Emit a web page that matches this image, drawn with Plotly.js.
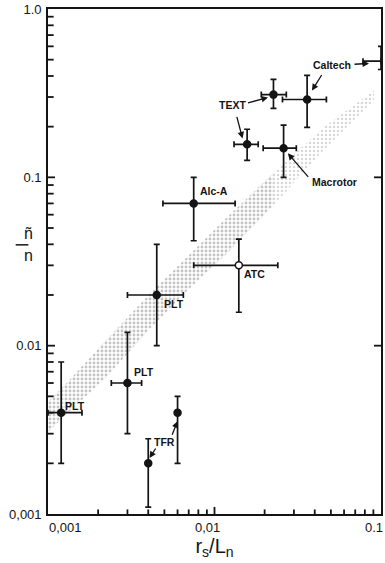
<!DOCTYPE html>
<html><head><meta charset="utf-8">
<script src="https://cdn.plot.ly/plotly-3.0.1.min.js"></script>
<style>html,body{margin:0;padding:0;background:#fff;}#chart{width:385px;height:563px;}</style>
</head><body><div id="chart"></div>
<script>
// ---- data ----
const pointLabels = ['PLT','PLT','TFR','TFR','PLT','Alc-A','ATC','TEXT','Macrotor','TEXT','Caltech','Caltech'];
const rsLn      = [0.0012, 0.003,  0.004,  0.006, 0.0045, 0.0075, 0.014,  0.0157, 0.026,  0.0226, 0.036,  0.1];
const rsLnLow   = [0.001,  0.0024, null,   null,  0.003,  0.0049, 0.0075, 0.0131, 0.0196, 0.0191, 0.0256, 0.078];
const rsLnHigh  = [0.0016, 0.00365,null,   null,  0.0065, 0.0133, 0.024,  0.0183, 0.031,  0.027,  0.047,  0.1];
const nRatio    = [0.004,  0.006,  0.002,  0.004, 0.02,   0.07,   0.03,   0.157,  0.149,  0.31,   0.29,   0.49];
const nRatioLow = [0.002,  0.003,  0.0011, 0.002, 0.01,   0.042,  0.0158, 0.126,  0.1,    0.257,  0.198,  0.437];
const nRatioHigh= [0.008,  0.012,  0.0028, 0.005, 0.04,   0.1,    0.043,  0.193,  0.204,  0.382,  0.403,  0.6];
const openPoint = [false,false,false,false,false,false,true,false,false,false,false,false];

// theory band (stippled)
const bandX     = [0.001,  0.00129, 0.00224, 0.00391, 0.00682, 0.0119, 0.0226, 0.0452, 0.0907];
const bandUpper = [0.00462,0.00599, 0.0108,  0.0194,  0.0335,  0.0579, 0.106,  0.198,  0.328];
const bandLower = [0.00307,0.00392, 0.0065,  0.012,   0.0211,  0.0354, 0.0682, 0.145,  0.286];

// tick labels
const xTickVals = [0.001, 0.01, 0.1];
const xTickText = ['0,001', '0,01', '0.1'];
const xTickLabelPos = [0.00127, 0.0091, 0.1];
const yTickVals = [0.001, 0.01, 0.1, 1];
const yTickText = ['0,001', '0.01', '0.1', '1.0'];

// point labels
const labelText = ['Caltech','TEXT','Macrotor','Alc-A','ATC','PLT','PLT','PLT','TFR'];
const labelX    = [0.0508, 0.01274, 0.0529, 0.00993, 0.0175, 0.00571, 0.00377, 0.00145, 0.00501];
const labelY    = [0.462,  0.2675,  0.0934, 0.0826,  0.0266, 0.01763, 0.00696, 0.00437, 0.00267];

// arrows (tail -> head)
const arrowTailX = [0.0679, 0.0446, 0.01556, 0.01355, 0.0372, 0.00449, 0.00552];
const arrowTailY = [0.469,  0.414,  0.275,   0.2333,  0.0986, 0.0025,  0.0029];
const arrowHeadX = [0.0847, 0.0385, 0.02094, 0.01473, 0.0276, 0.00407, 0.006];
const arrowHeadY = [0.475,  0.328,  0.2985,  0.1703,  0.1388, 0.00215, 0.00356];

// ---- build ----
const L = Math.log10;
const ink = '#141414';
const FONT = 'Liberation Sans, Arial, sans-serif';
const minorsOf = (majors) => {
  const v = [];
  majors.forEach((m, i) => { if (i < majors.length - 1) for (let k = 2; k <= 9; k++) v.push(k * m); });
  return v;
};

const plusX  = rsLn.map((x,i)=> rsLnHigh[i]==null ? NaN : rsLnHigh[i]-x);
const minusX = rsLn.map((x,i)=> rsLnLow[i]==null ? NaN : x-rsLnLow[i]);
const plusY  = nRatio.map((y,i)=> nRatioHigh[i]-y);
const minusY = nRatio.map((y,i)=> y-nRatioLow[i]);

function bandTrace(i0, i1, fill, fg, sol) {
  const xs = bandX.slice(i0, i1 + 1), up = bandUpper.slice(i0, i1 + 1), lo = bandLower.slice(i0, i1 + 1);
  return {
    x: xs.concat(xs.slice().reverse()),
    y: up.concat(lo.slice().reverse()),
    type:'scatter', mode:'lines', fill:'toself',
    line:{width:0, color:'rgba(0,0,0,0)'},
    fillcolor: fill,
    fillpattern:{shape:'.', fgcolor:fg, bgcolor:'rgba(0,0,0,0)', size:4, solidity:sol, fillmode:'overlay'},
    hoverinfo:'skip'
  };
}
const bandDense = bandTrace(0, 6, 'rgba(190,190,190,0.25)', '#888888', 0.4);
const bandFaint = bandTrace(6, 8, 'rgba(210,210,210,0.15)', '#b0b0b0', 0.3);

const pts = {
  x: rsLn, y: nRatio, text: pointLabels,
  type:'scatter', mode:'markers', cliponaxis:false,
  marker:{size:7, color: openPoint.map(o=>o?'#ffffff':ink), line:{color:ink, width:1.5}},
  error_x:{type:'data', symmetric:false, array:plusX, arrayminus:minusX, color:ink, thickness:1.7, width:3},
  error_y:{type:'data', symmetric:false, array:plusY, arrayminus:minusY, color:ink, thickness:1.7, width:3}
};

const annotations = [];
labelText.forEach((t,i)=>annotations.push({
  text:t, x:L(labelX[i]), y:L(labelY[i]), xref:'x', yref:'y', showarrow:false,
  font:{family:FONT, size:10.5, color:ink, weight:'bold'}
}));
arrowTailX.forEach((tx,i)=>annotations.push({
  text:'', x:L(arrowHeadX[i]), y:L(arrowHeadY[i]), ax:L(tx), ay:L(arrowTailY[i]),
  xref:'x', yref:'y', axref:'x', ayref:'y', showarrow:true,
  arrowhead:2, arrowsize:1, arrowwidth:1.3, arrowcolor:ink, standoff:0, startstandoff:0
}));
xTickText.forEach((t,i)=>annotations.push({
  text:t, x:L(xTickLabelPos[i]), y:0, xref:'x', yref:'paper', yanchor:'top', yshift:-4,
  xanchor: i === xTickText.length - 1 ? 'right' : 'center', xshift: i === xTickText.length - 1 ? 4 : 0,
  showarrow:false, font:{family:FONT, size:13, color:ink}
}));
// y-axis title: stacked fraction  ñ / n
annotations.push({text:'ñ', xref:'paper', yref:'paper', x:-0.078, y:0.556, showarrow:false, font:{family:FONT, size:16, color:ink}});
annotations.push({text:'n', xref:'paper', yref:'paper', x:-0.078, y:0.512, showarrow:false, font:{family:FONT, size:16, color:ink}});

// tick marks at the axes' tick values (shapes on log axes take data values)
const shapes = [{type:'line', xref:'paper', yref:'paper', x0:-0.097, x1:-0.059, y0:0.533, y1:0.533, line:{color:ink, width:1.5}}];
const tickLine = {color:ink, width:1.8};
minorsOf(yTickVals).forEach(v => shapes.push({type:'line', xref:'paper', yref:'y', x0:0, x1:0.017, y0:v, y1:v, line:tickLine}));
yTickVals.slice(1,3).forEach(v => {
  shapes.push({type:'line', xref:'paper', yref:'y', x0:0, x1:0.021, y0:v, y1:v, line:tickLine});
  shapes.push({type:'line', xref:'paper', yref:'y', x0:1, x1:0.979, y0:v, y1:v, line:tickLine});
});
minorsOf(xTickVals).forEach(v => shapes.push({type:'line', xref:'x', yref:'paper', x0:v, x1:v, y0:0, y1:0.009, line:tickLine}));
shapes.push({type:'line', xref:'x', yref:'paper', x0:xTickVals[1], x1:xTickVals[1], y0:0, y1:0.014, line:tickLine});

const layout = {
  width:385, height:563,
  margin:{l:48, r:4, t:9, b:49},
  paper_bgcolor:'#fff', plot_bgcolor:'#fff',
  showlegend:false,
  font:{family:FONT, color:ink},
  xaxis:{type:'log', range:[-3,-1], showgrid:false, zeroline:false,
    showline:true, linecolor:ink, linewidth:1.8, mirror:true,
    ticks:'', tickmode:'array', tickvals:xTickVals, ticktext:xTickText, showticklabels:false,
    title:{text:'r<sub>s</sub>/L<sub>n</sub>', font:{family:FONT, size:20, color:ink}, standoff:24}
  },
  yaxis:{type:'log', range:[-3,0], showgrid:false, zeroline:false,
    showline:true, linecolor:ink, linewidth:1.8, mirror:true,
    ticks:'', tickmode:'array', tickvals:yTickVals, ticktext:yTickText,
    tickfont:{family:FONT, size:13, color:ink}, ticklabelstandoff:2
  },
  annotations, shapes
};

Plotly.newPlot('chart', [bandDense, bandFaint, pts], layout, {displayModeBar:false, staticPlot:true});
</script></body></html>
